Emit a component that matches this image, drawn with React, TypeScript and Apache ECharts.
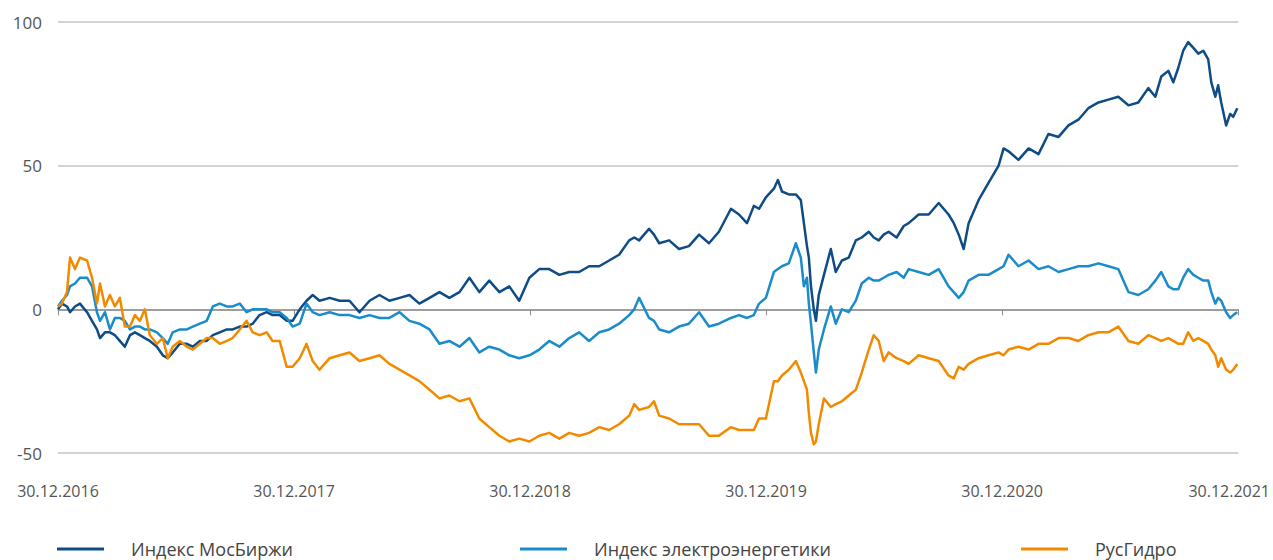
import React, { useEffect, useRef } from "react";
import * as echarts from "echarts";

// x positions in years since 30.12.2016
const years: number[] = [
  0, 0.017, 0.038, 0.051, 0.072, 0.093, 0.123, 0.144, 0.165, 0.178,
  0.199, 0.220, 0.241, 0.262, 0.283, 0.305, 0.326, 0.347, 0.368, 0.389,
  0.419, 0.444, 0.465, 0.486, 0.516, 0.546, 0.571, 0.601, 0.630, 0.656,
  0.685, 0.715, 0.740, 0.770, 0.799, 0.825, 0.854, 0.884, 0.909, 0.939,
  0.969, 0.994, 1.024, 1.053, 1.079, 1.108, 1.151, 1.193, 1.235, 1.277,
  1.320, 1.362, 1.404, 1.447, 1.489, 1.531, 1.574, 1.616, 1.658, 1.701,
  1.743, 1.785, 1.827, 1.870, 1.912, 1.954, 1.997, 2.039, 2.081, 2.124,
  2.166, 2.208, 2.250, 2.293, 2.335, 2.377, 2.420, 2.441, 2.462, 2.504,
  2.525, 2.547, 2.589, 2.631, 2.673, 2.716, 2.758, 2.800, 2.851, 2.885,
  2.919, 2.948, 2.970, 2.999, 3.033, 3.050, 3.067, 3.096, 3.126, 3.147,
  3.160, 3.173, 3.181, 3.190, 3.202, 3.211, 3.223, 3.245, 3.274, 3.295,
  3.321, 3.350, 3.380, 3.405, 3.435, 3.456, 3.477, 3.498, 3.519, 3.553,
  3.583, 3.604, 3.646, 3.689, 3.731, 3.773, 3.795, 3.816, 3.837, 3.858,
  3.900, 3.942, 3.985, 4.006, 4.027, 4.069, 4.112, 4.154, 4.196, 4.239,
  4.281, 4.323, 4.365, 4.408, 4.450, 4.492, 4.535, 4.577, 4.619, 4.649,
  4.674, 4.704, 4.725, 4.746, 4.767, 4.788, 4.810, 4.831, 4.852, 4.873,
  4.886, 4.903, 4.915, 4.928, 4.949, 4.966, 4.979, 4.996,
];

const moex: number[] = [
  0, 2, 1, -1, 1, 2, -1, -4, -7, -10,
  -8, -8, -9, -11, -13, -9, -8, -9, -10, -11,
  -13, -16, -17, -15, -12, -12, -13, -11, -11, -9,
  -8, -7, -7, -6, -6, -5, -2, -1, -2, -2,
  -4, -4, 0, 3, 5, 3, 4, 3, 3, -1,
  3, 5, 3, 4, 5, 2, 4, 6, 4, 6,
  11, 6, 10, 6, 8, 3, 11, 14, 14, 12,
  13, 13, 15, 15, 17, 19, 24, 25, 24, 28,
  26, 23, 24, 21, 22, 26, 23, 27, 35, 33,
  30, 36, 35, 39, 42, 45, 41, 40, 40, 38,
  30, 22, 18, 8, 0, -4, 5, 12, 21, 13,
  17, 18, 24, 25, 27, 25, 24, 26, 27, 25,
  29, 30, 33, 33, 37, 33, 30, 26, 21, 30,
  38, 44, 50, 56, 55, 52, 56, 54, 61, 60,
  64, 66, 70, 72, 73, 74, 71, 72, 77, 74,
  81, 83, 79, 84, 90, 93, 91, 89, 90, 87,
  79, 74, 78, 72, 64, 68, 67, 70,
];

const power: number[] = [
  1, 3, 5, 8, 9, 11, 11, 8, -1, -4,
  -1, -7, -3, -3, -4, -7, -6, -6, -7, -7,
  -8, -10, -12, -8, -7, -7, -6, -5, -4, 1,
  2, 1, 1, 2, -1, 0, 0, 0, -1, -1,
  -3, -6, -5, 2, -1, -2, -1, -2, -2, -3,
  -2, -3, -3, -1, -4, -5, -7, -12, -11, -13,
  -10, -15, -13, -14, -16, -17, -16, -14, -11, -13,
  -10, -8, -11, -8, -7, -5, -2, 0, 4, -3,
  -4, -7, -8, -6, -5, -1, -6, -5, -3, -2,
  -3, -2, 2, 4, 13, 14, 15, 16, 23, 18,
  8, 11, 2, -5, -15, -22, -14, -7, 1, -5,
  0, -1, 3, 9, 11, 10, 10, 11, 12, 13,
  11, 14, 13, 12, 14, 8, 6, 4, 6, 10,
  12, 12, 14, 15, 19, 15, 17, 14, 15, 13,
  14, 15, 15, 16, 15, 14, 6, 5, 7, 10,
  13, 8, 7, 7, 11, 14, 12, 11, 10, 10,
  6, 2, 4, 3, -1, -3, -2, -1,
];

const rushydro: number[] = [
  1, 2, 6, 18, 14, 18, 17, 11, 2, 9,
  1, 5, 1, 4, -6, -6, -2, -4, 0, -9,
  -12, -10, -17, -13, -11, -13, -14, -12, -10, -10,
  -12, -11, -10, -7, -4, -8, -9, -8, -11, -11,
  -20, -20, -17, -12, -18, -21, -17, -16, -15, -18,
  -17, -16, -19, -21, -23, -25, -28, -31, -30, -32,
  -31, -38, -41, -44, -46, -45, -46, -44, -43, -45,
  -43, -44, -43, -41, -42, -40, -37, -33, -35, -34,
  -32, -37, -38, -40, -40, -40, -44, -44, -41, -42,
  -42, -42, -38, -38, -25, -25, -23, -21, -18, -22,
  -25, -28, -36, -43, -47, -46, -40, -31, -34, -33,
  -32, -30, -28, -22, -14, -9, -11, -18, -15, -17,
  -18, -19, -16, -17, -18, -23, -24, -20, -21, -19,
  -17, -16, -15, -16, -14, -13, -14, -12, -12, -10,
  -10, -11, -9, -8, -8, -6, -11, -12, -9, -10,
  -11, -10, -11, -12, -12, -8, -11, -10, -11, -12,
  -14, -16, -20, -17, -21, -22, -21, -19,
];

const seriesNames = ["Индекс МосБиржи", "Индекс электроэнергетики", "РусГидро"];
const seriesColors = ["#0f4c85", "#1a8bcb", "#f28a00"];
const xTickLabels = ["30.12.2016", "30.12.2017", "30.12.2018", "30.12.2019", "30.12.2020", "30.12.2021"];
const yTicks = { min: -50, max: 100, interval: 50 };

const FONT = "'Open Sans', 'Noto Sans', sans-serif";

export default function App() {
  const ref = useRef<HTMLDivElement>(null);

  useEffect(() => {
    if (!ref.current) return;
    const chart = echarts.init(ref.current, undefined, { renderer: "svg" });
    const values = [moex, power, rushydro];
    const legendLefts = [57, 520, 1021];

    const option: any = {
      animation: false,
      backgroundColor: "#ffffff",
      grid: { left: 58, right: 33, top: 22, bottom: 107 },
      legend: seriesNames.map((name, i) => ({
        data: [name],
        left: legendLefts[i],
        top: 539,
        padding: 0,
        icon: "rect",
        itemWidth: 47,
        itemHeight: 3,
        textStyle: {
          fontFamily: FONT,
          fontSize: 18,
          lineHeight: 20,
          color: "#444",
          padding: [0, 0, 0, 22],
        },
        selectedMode: false,
      })),
      xAxis: [
        {
          type: "value",
          min: 0,
          max: 5,
          interval: 1,
          axisLine: { show: true, onZero: true, lineStyle: { color: "#8c8c8c", width: 1.5 } },
          axisTick: { show: true, length: 6, inside: false, lineStyle: { color: "#8c8c8c", width: 1 } },
          axisLabel: { show: false },
          splitLine: { show: false },
        },
        {
          type: "value",
          min: 0,
          max: 5,
          interval: 1,
          position: "bottom",
          axisLine: { show: false, onZero: false },
          axisTick: { show: false },
          splitLine: { show: false },
          axisLabel: {
            show: true,
            margin: 30,
            fontFamily: FONT,
            fontSize: 16,
            color: "#555",
            formatter: (v: number) => {
              const lbl = xTickLabels[Math.round(v)] ?? "";
              return Math.round(v) === 5 ? `{r|${lbl}}` : `{n|${lbl}}`;
            },
            rich: {
              n: { fontFamily: FONT, fontSize: 16, color: "#555" },
              r: { fontFamily: FONT, fontSize: 16, color: "#555", padding: [0, 18, 0, 0] },
            },
          },
        },
      ],
      yAxis: {
        type: "value",
        min: yTicks.min,
        max: yTicks.max,
        interval: yTicks.interval,
        axisLine: { show: false },
        axisTick: { show: false },
        axisLabel: { margin: 16, fontFamily: FONT, fontSize: 17, color: "#555" },
        splitLine: { lineStyle: { color: "#c4c4c4", width: 1.5 } },
      },
      series: seriesNames.map((name, i) => ({
        name,
        type: "line",
        xAxisIndex: 0,
        data: years.map((t, k) => [t, values[i][k]]),
        showSymbol: false,
        symbol: "none",
        lineStyle: { color: seriesColors[i], width: 2.5, join: "round" },
        itemStyle: { color: seriesColors[i] },
        z: 2 + i,
      })),
    };

    chart.setOption(option);
    return () => chart.dispose();
  }, []);

  return (
    <div
      ref={ref}
      style={{ position: "fixed", left: 0, top: 0, width: 1273, height: 560, background: "#fff" }}
    />
  );
}
